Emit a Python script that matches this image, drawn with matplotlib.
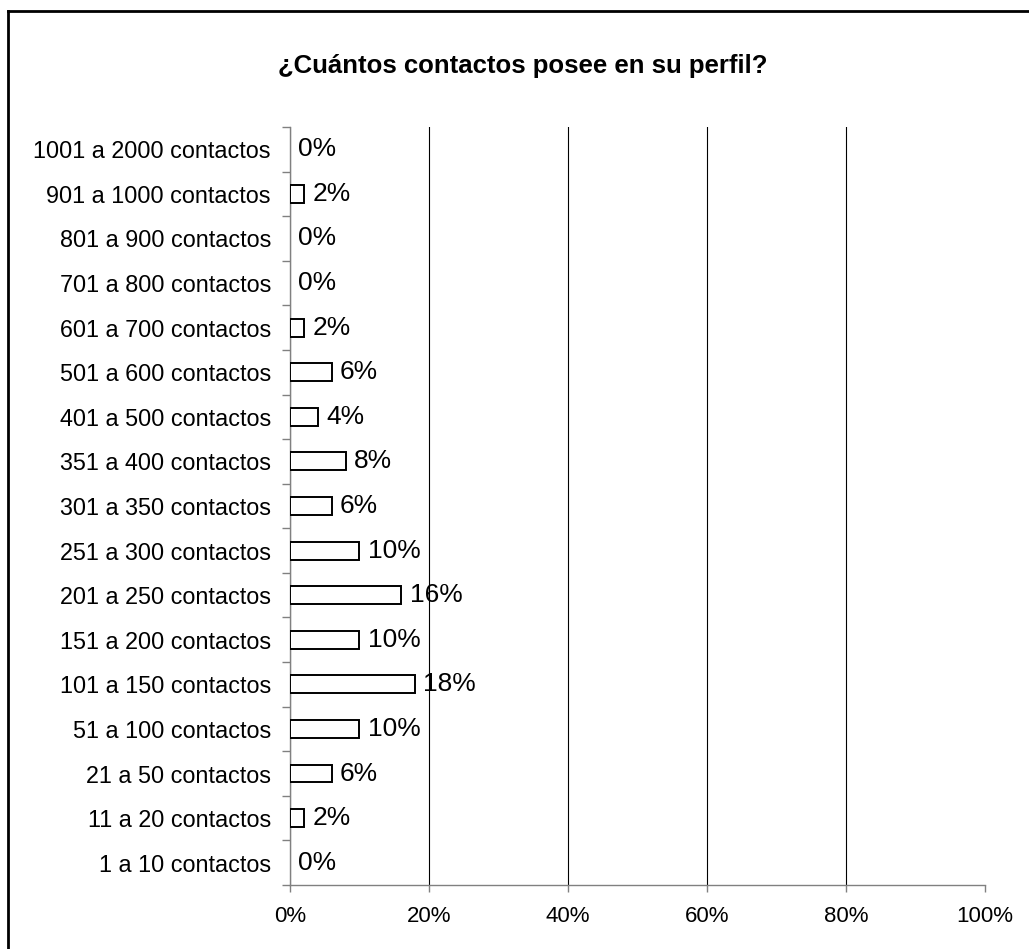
import matplotlib.pyplot as plt
from matplotlib.lines import Line2D
import numpy as np

plt.rcParams['font.family'] = ['Liberation Sans', 'DejaVu Sans']

# contact ranges, bottom to top
categorias = ['1 a 10 contactos', '11 a 20 contactos', '21 a 50 contactos',
              '51 a 100 contactos', '101 a 150 contactos', '151 a 200 contactos',
              '201 a 250 contactos', '251 a 300 contactos', '301 a 350 contactos',
              '351 a 400 contactos', '401 a 500 contactos', '501 a 600 contactos',
              '601 a 700 contactos', '701 a 800 contactos', '801 a 900 contactos',
              '901 a 1000 contactos', '1001 a 2000 contactos']
porcentajes = [0, 2, 6, 10, 18, 10, 16, 10, 6, 8, 4, 6, 2, 0, 0, 2, 0]
xticks = [0, 20, 40, 60, 80, 100]

fig = plt.figure(figsize=(10.29, 9.49), dpi=100)
ax = fig.add_axes([0.2818, 0.0674, 0.6754, 0.7988])

y = np.arange(len(categorias))
# empty bars get no outline so the gray axis line stays visible
anchos = [1.4 if v > 0 else 0 for v in porcentajes]
ax.barh(y, porcentajes, height=0.4, color='white', edgecolor='black',
        linewidth=anchos, zorder=3)

for yi, v in zip(y, porcentajes):
    ax.annotate(f'{v}%', (v, yi), xytext=(6, 0), textcoords='offset points',
                ha='left', va='center', fontsize=19, zorder=4)

ax.set_xlim(0, 100)
ax.set_ylim(-0.5, len(categorias) - 0.5)
ax.set_xticks(xticks)
ax.set_xticklabels([f'{t}%' for t in xticks], fontsize=16)
ax.set_yticks(y)
ax.set_yticklabels(categorias, fontsize=16.8)
ax.set_yticks(np.arange(-0.5, len(categorias)), minor=True)

ax.tick_params(axis='y', which='major', length=0, pad=13.7)
ax.tick_params(axis='y', which='minor', length=6, color='#808080', width=1)
ax.tick_params(axis='x', length=5, color='#808080', width=1, pad=10)

ax.xaxis.grid(True, color='black', linewidth=0.8, zorder=0)
ax.set_axisbelow(True)
ax.get_xgridlines()[-1].set_visible(False)
for s in ['top', 'right']:
    ax.spines[s].set_visible(False)
for s in ['left', 'bottom']:
    ax.spines[s].set_color('#808080')
    ax.spines[s].set_linewidth(1)

fig.text(0.508, 0.923, '¿Cuántos contactos posee en su perfil?',
         ha='center', va='baseline', fontsize=18.5, fontweight='bold')

# outer chart frame
fig.add_artist(Line2D([0.0078, 0.0078], [0, 0.9884], color='black', linewidth=2,
                      transform=fig.transFigure))
fig.add_artist(Line2D([0.0078, 1], [0.9884, 0.9884], color='black', linewidth=2,
                      transform=fig.transFigure))

fig.savefig('out.png', dpi=100)
